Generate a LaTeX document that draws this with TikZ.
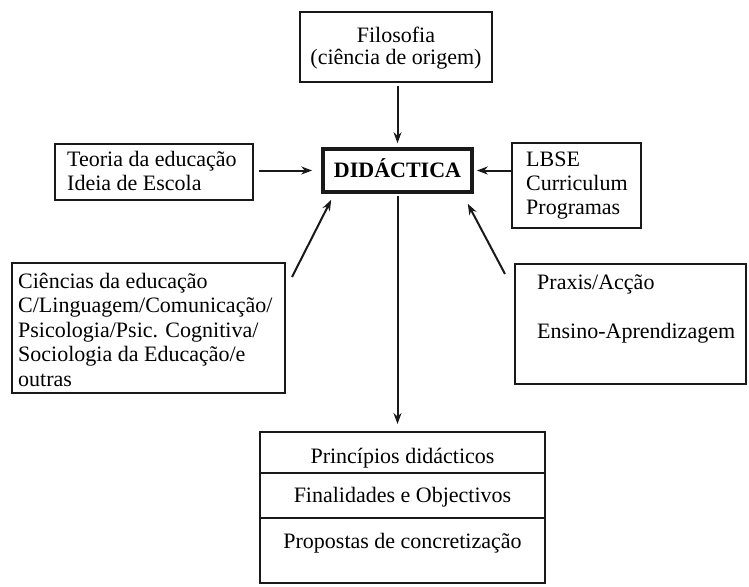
\documentclass[tikz,border=0pt]{standalone}
\usepackage{fontspec}
\setmainfont{Liberation Serif}
\usetikzlibrary{arrows.meta}
\begin{document}
\begin{tikzpicture}[x=1pt,y=-1pt,
  box/.style={draw=black!90,line width=2pt,rectangle,inner sep=0pt},
  thickbox/.style={draw=black!90,line width=3.6pt,rectangle,inner sep=0pt},
  txt/.style={inner sep=0pt,font=\fontsize{22}{24.5}\selectfont},
  arr/.style={draw=black!90,line width=2pt,-{Stealth[length=11pt,width=8pt]}}]
\useasboundingbox (0,0) rectangle (749,586);
% boxes
\node[box,minimum width=192pt,minimum height=70pt] (fil) at (396,47) {};
\node[thickbox,minimum width=149pt,minimum height=43pt] (did) at (397.5,170.5) {};
\node[box,minimum width=198pt,minimum height=56pt] (teo) at (154,172) {};
\node[box,minimum width=129pt,minimum height=85pt] (lbse) at (576.5,185.5) {};
\node[box,minimum width=273pt,minimum height=130pt] (cie) at (148.5,328) {};
\node[box,minimum width=231pt,minimum height=120pt] (pra) at (630.5,323.5) {};
\node[box,minimum width=285pt,minimum height=151pt] (bot) at (402.5,507.5) {};
\draw[box] (bot.west |- 0,473) coordinate (d1a) -- (bot.east |- 0,473) coordinate (d1b);
\draw[box] (bot.west |- 0,518) coordinate (d2a) -- (bot.east |- 0,518) coordinate (d2b);
% texts
\node[txt,anchor=base] (t1) at (396,42) {Filosofia};
\node[txt,anchor=base] (t2) at (396,65) {(ciência de origem)};
\node[txt,anchor=base,font=\fontsize{22}{24.5}\selectfont\bfseries] (t3) at (397.5,177) {DIDÁCTICA};
\node[txt,anchor=base west] (t4) at (67,166) {Teoria da educação};
\node[txt,anchor=base west] (t5) at (67,190) {Ideia de Escola};
\node[txt,anchor=base west] (t6) at (526,166) {LBSE};
\node[txt,anchor=base west] (t7) at (526,190.5) {Curriculum};
\node[txt,anchor=base west] (t8) at (526,214.5) {Programas};
\node[txt,anchor=base west] (t9) at (18,288) {Ciências da educação};
\node[txt,anchor=base west] (t10) at (18,312.5) {C/Linguagem/Comunicação/};
\node[txt,anchor=base west] (t11) at (18,337) {Psicologia/Psic. Cognitiva/};
\node[txt,anchor=base west] (t12) at (18,361.5) {Sociologia da Educação/e};
\node[txt,anchor=base west] (t13) at (18,386) {outras};
\node[txt,anchor=base west] (t14) at (537,289) {Praxis/Acção};
\node[txt,anchor=base west] (t15) at (537,338) {Ensino-Aprendizagem};
\node[txt,anchor=base] (t16) at (402.5,463) {Princípios didácticos};
\node[txt,anchor=base] (t17) at (402.5,502) {Finalidades e Objectivos};
\node[txt,anchor=base] (t18) at (402.5,548) {Propostas de concretização};
% connectors
\coordinate (cs) at (292,277);
\coordinate (ps) at (505,274);
\draw[arr,shorten <=3pt,shorten >=4pt] (fil.south -| did.north) -- (did.north);
\draw[arr,shorten <=5pt,shorten >=9pt] (teo.east |- did.west) -- (did.west);
\draw[arr,shorten >=3pt] (did.east -| lbse.west) -- (did.east);
\draw[arr] (cs) -- ([xshift=10pt,yshift=-6pt]did.south west);
\draw[arr] (ps) -- ([xshift=-6pt,yshift=-10pt]did.south east);
\draw[arr,shorten <=2pt,shorten >=7pt] (did.south) -- (did.south |- bot.north);
\end{tikzpicture}
\end{document}
